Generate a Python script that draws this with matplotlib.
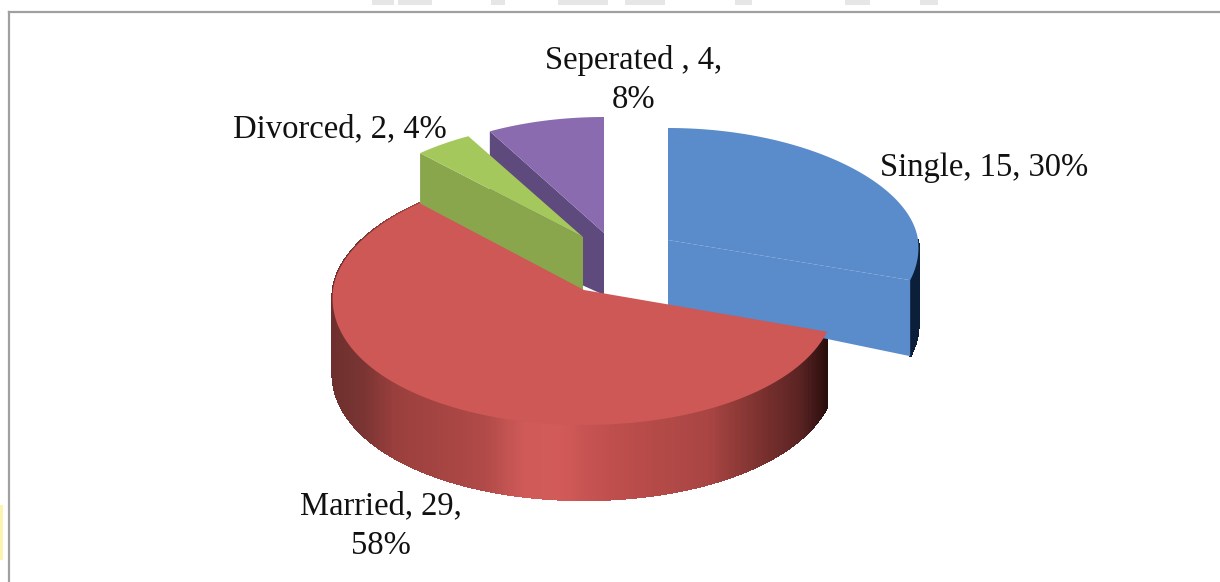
import numpy as np
import matplotlib.pyplot as plt
from matplotlib.colors import LinearSegmentedColormap
from matplotlib.patches import Polygon, Rectangle

categories = ["Single", "Married", "Divorced", "Seperated "]
counts = [15, 29, 2, 4]
percents = [30, 58, 4, 8]

plt.rcParams['font.family'] = ['Liberation Serif', 'DejaVu Serif']

# slice geometry in image pixels (exploded pie, tilted)
# k is a small perspective factor, cut says which radial face shows
geometry = {
    "Single": dict(cx=668, cy=240, rx=250, ry_back=112, ry_front=130, rim=76, apex=66, k=0.06, cut="end"),
    "Married": dict(cx=584, cy=290, rx=251, ry_back=119, ry_front=135, rim=75, apex=62, k=0.06, cut=None),
    "Divorced": dict(cx=583, cy=237, rx=238, ry_back=115, ry_front=115, rim=51, apex=54, k=0.0, cut="start"),
    "Seperated ": dict(cx=604, cy=233, rx=237, ry_back=116, ry_front=116, rim=112, apex=62, k=0.0, cut="start"),
}
top_colors = {"Single": "#5a8bcb", "Married": "#cd5855", "Divorced": "#a4c85c", "Seperated ": "#8a6bb0"}
cut_colors = {"Single": "#5a8bcb", "Married": "#cd5855", "Divorced": "#89a64c", "Seperated ": "#5f4a7d"}
label_texts = [
    "{}, {}, {}%",
    "{}, {},\n{}%",
    "{}, {}, {}%",
    "{}, {},\n{}%",
]
label_pos = [(984, 168), (381, 526), (340, 129), (634, 80)]

red_wall = LinearSegmentedColormap.from_list("red_wall", [
    (0.0, "#6e302e"), (0.06, "#7a3533"), (0.12, "#9a3f3d"), (0.3, "#b04a48"),
    (0.38, "#cf5a58"), (0.45, "#d25b59"), (0.55, "#bf4f4d"), (0.75, "#a84543"),
    (0.85, "#7c322f"), (0.93, "#5a2423"), (1.0, "#1c0806"),
])
blue_wall = LinearSegmentedColormap.from_list("blue_wall", ["#0a1a30", "#0c1f3a"])
walls = {"Single": blue_wall, "Married": red_wall}


def rim_point(g, ang):
    s, c = np.sin(ang), np.cos(ang)
    ry = g["ry_back"] if c > 0 else g["ry_front"]
    return g["cx"] + g["rx"] * s * (1 - g["k"] * c), g["cy"] - ry * c


def draw_slice(ax, name, start, end):
    g = geometry[name]
    angs = np.linspace(start, end, 200)
    pts = np.array([rim_point(g, a) for a in angs])

    # outer wall, only the part facing the viewer
    if name in walls:
        front = np.linspace(max(start, np.pi / 2), end, 500)
        xy = np.array([rim_point(g, a) for a in front])
        lo, hi = g["cx"] - g["rx"], g["cx"] + g["rx"]
        for i in range(len(front) - 1):
            quad = [xy[i], xy[i + 1], xy[i + 1] + [0, g["rim"]], xy[i] + [0, g["rim"]]]
            col = walls[name](np.clip((xy[i][0] - lo) / (hi - lo), 0, 1))
            ax.add_patch(Polygon(quad, facecolor=col, edgecolor=col, lw=1.0,
                                 antialiased=False, zorder=2))

    # radial cut face
    apex_top = np.array([g["cx"], g["cy"]])
    apex_bot = apex_top + [0, g["apex"]]
    if g["cut"]:
        edge = pts[-1] if g["cut"] == "end" else pts[0]
        ax.add_patch(Polygon([apex_top, edge, edge + [0, g["rim"]], apex_bot],
                             facecolor=cut_colors[name], edgecolor="none", zorder=3))

    # top face
    ax.add_patch(Polygon(np.vstack([apex_top, pts]), facecolor=top_colors[name],
                         edgecolor="none", zorder=4))


fig = plt.figure(figsize=(12.2, 5.82), dpi=100)
ax = fig.add_axes([0, 0, 1, 1])
ax.set_xlim(0, 1220)
ax.set_ylim(582, 0)
ax.axis('off')

# frame of the scanned figure
ax.plot([9, 9], [582, 11.5], color="#a0a0a0", lw=1.6, zorder=1)
ax.plot([9, 1220], [11.5, 11.5], color="#a0a0a0", lw=1.6, zorder=1)
# bits of the page left over around the crop
for x0, w in [(372, 22), (398, 34), (491, 14), (558, 50), (625, 40), (735, 17), (845, 25), (920, 18)]:
    ax.add_patch(Rectangle((x0, 0), w, 5, facecolor="#e6e6e6", edgecolor="none"))
ax.add_patch(Rectangle((0, 505), 3, 55, facecolor="#fbf3b0", edgecolor="none"))

total = sum(counts)
angles = {}
a = 0.0
for name, v in zip(categories, counts):
    angles[name] = (a, a + 2 * np.pi * v / total)
    a += 2 * np.pi * v / total

for name in ["Seperated ", "Divorced", "Single", "Married"]:
    draw_slice(ax, name, *angles[name])

for i, name in enumerate(categories):
    label = label_texts[i].format(name, counts[i], percents[i])
    ax.text(label_pos[i][0], label_pos[i][1], label, fontsize=23.5, color="#111111",
            ha="center", va="center", linespacing=1.36, zorder=6)

fig.savefig("out.png", dpi=100)
